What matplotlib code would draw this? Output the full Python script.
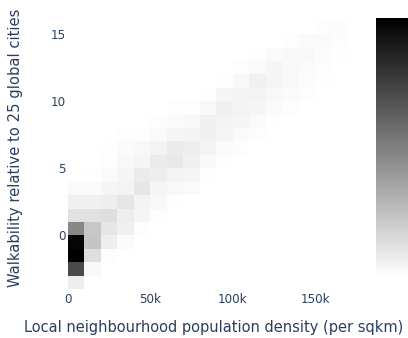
import matplotlib.pyplot as plt
import numpy as np
from matplotlib.colors import LinearSegmentedColormap

# bin edges
x_edges = list(range(0, 170001, 10000))
y_edges = list(range(-4, 17))

# counts per y bin (rows from y=-4 up to y=15), 17 density bins each
counts = [
    [7, 0, 0, 0, 0, 0, 0, 0, 0, 0, 0, 0, 0, 0, 0, 0, 0],
    [71, 3, 0, 0, 0, 0, 0, 0, 0, 0, 0, 0, 0, 0, 0, 0, 0],
    [100, 13, 1, 0, 0, 0, 0, 0, 0, 0, 0, 0, 0, 0, 0, 0, 0],
    [98, 23, 7, 2, 0, 0, 0, 0, 0, 0, 0, 0, 0, 0, 0, 0, 0],
    [47, 22, 10, 6, 1, 0, 0, 0, 0, 0, 0, 0, 0, 0, 0, 0, 0],
    [12, 12, 13, 7, 4, 1, 0, 0, 0, 0, 0, 0, 0, 0, 0, 0, 0],
    [6, 6, 7, 10, 5, 3, 1, 0, 0, 0, 0, 0, 0, 0, 0, 0, 0],
    [2, 2, 4, 5, 10, 4, 3, 2, 0, 0, 0, 0, 0, 0, 0, 0, 0],
    [0, 0.5, 2, 4, 8, 7, 5, 4, 1, 0, 0, 0, 0, 0, 0, 0, 0],
    [0, 0, 1, 3, 4, 8, 9, 6, 3, 1, 0, 0, 0, 0, 0, 0, 0],
    [0, 0, 0.5, 2, 3, 5, 8, 7, 5, 2, 1, 0, 0, 0, 0, 0, 0],
    [0, 0, 0, 1, 1, 2, 4, 5, 6, 4, 2, 1, 0, 0, 0, 0, 0],
    [0, 0, 0, 0, 0, 1, 2, 3, 6, 5, 4, 2, 0.5, 0, 0, 0, 0],
    [0, 0, 0, 0, 0, 0, 1, 1, 3, 6, 5, 4, 2, 1, 0, 0, 0],
    [0, 0, 0, 0, 0, 0, 0, 0, 1, 4, 5, 5, 3, 2, 1, 0, 0],
    [0, 0, 0, 0, 0, 0, 0, 0, 0, 1, 3, 6, 4, 3, 1.5, 0.5, 0],
    [0, 0, 0, 0, 0, 0, 0, 0, 0, 0, 1, 2, 4, 3, 2, 1, 0],
    [0, 0, 0, 0, 0, 0, 0, 0, 0, 0, 0, 0.5, 2, 3, 3, 1.5, 0.5],
    [0, 0, 0, 0, 0, 0, 0, 0, 0, 0, 0, 0, 0, 1, 2, 2, 1],
    [0, 0, 0, 0, 0, 0, 0, 0, 0, 0, 0, 0, 0, 0, 0, 1, 1.5],
]

x_ticks = [0, 50000, 100000, 150000]
x_ticklabels = ['0', '50k', '100k', '150k']
y_ticks = [0, 5, 10, 15]

text_col = '#2a3f5f'
greys = LinearSegmentedColormap.from_list('greys', ['#ffffff', '#000000'])

fig = plt.figure(figsize=(4.08, 3.38), dpi=100)
ax = fig.add_axes([68 / 408, 1 - 289 / 338, 280 / 408, 271 / 338])
cax = fig.add_axes([376 / 408, 1 - 277 / 338, 32 / 408, 259 / 338])

z = np.array(counts)
mesh = ax.pcolormesh(x_edges, y_edges, z, cmap=greys, vmin=0, vmax=z.max())
ax.set_xlim(0, 170000)
ax.set_ylim(-4, 16.2)

ax.set_xticks(x_ticks)
ax.set_xticklabels(x_ticklabels)
ax.set_yticks(y_ticks)
ax.tick_params(length=0, labelsize=8.6, labelcolor=text_col)
ax.tick_params(axis='x', pad=3)
ax.tick_params(axis='y', pad=1.5)
for s in ax.spines.values():
    s.set_visible(False)

ax.set_xlabel('Local neighbourhood population density (per sqkm)', fontsize=10.5, color=text_col)
ax.set_ylabel('Walkability relative to 25 global cities', fontsize=10.6, color=text_col)
ax.xaxis.set_label_coords(0.521, -0.115)
ax.yaxis.set_label_coords(-0.16, 0.522)

cb = fig.colorbar(mesh, cax=cax)
cb.outline.set_visible(False)
cb.set_ticks([])

fig.savefig('out.png', dpi=100)
